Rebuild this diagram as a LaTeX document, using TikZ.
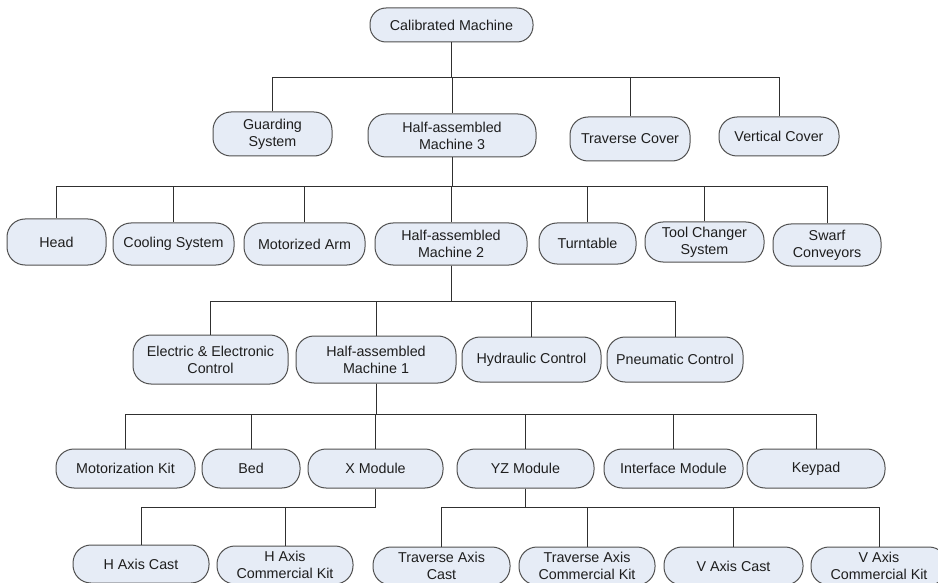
\documentclass[tikz,border=0pt]{standalone}
\usepackage{fontspec}
\setmainfont{Liberation Sans}
\definecolor{boxfill}{HTML}{E6ECF6}
\definecolor{boxline}{HTML}{505050}
\definecolor{wire}{HTML}{303030}
\definecolor{txt}{HTML}{1E1E1E}
\tikzset{
  part/.style={draw=boxline, fill=boxfill, line width=1pt, rounded corners=18pt,
    align=center, inner sep=0pt, text=txt, font=\fontsize{14.3}{16.8}\selectfont},
  conn/.style={draw=wire, line width=0.9pt},
}
\newcommand{\pbox}[6]{\node[part, minimum width=#4, minimum height=#5] (#1) at (#2,#3) {#6};}
\begin{document}
\begin{tikzpicture}[x=1pt,y=-1pt]
\useasboundingbox (0,0) rectangle (938,583);
% level 0
\node[part, rounded corners=16pt, minimum width=163pt, minimum height=34pt] (root) at (451.5,25) {Calibrated Machine};
% level 1
\pbox{guard}{272.5}{134}{119pt}{44pt}{Guarding\\System}
\pbox{ham3}{452}{135.5}{168pt}{43pt}{Half-assembled\\Machine 3}
\pbox{travc}{630}{139}{120pt}{44pt}{Traverse Cover}
\pbox{vertc}{779}{136.5}{120pt}{39pt}{Vertical Cover}
% level 2
\pbox{head}{56.5}{242}{99pt}{46pt}{Head}
\pbox{cool}{173.5}{244}{121pt}{42pt}{Cooling System}
\pbox{marm}{304.5}{244}{121pt}{42pt}{Motorized Arm}
\pbox{ham2}{451}{244}{152pt}{42pt}{Half-assembled\\Machine 2}
\pbox{turn}{587.5}{243.5}{97pt}{41pt}{Turntable}
\pbox{tool}{704.5}{242}{119pt}{40pt}{Tool Changer\\System}
\pbox{swarf}{827}{245}{108pt}{42pt}{Swarf\\Conveyors}
% level 3
\pbox{eec}{210.5}{359.5}{155pt}{49pt}{Electric \& Electronic\\Control}
\pbox{ham1}{376}{359.5}{160pt}{47pt}{Half-assembled\\Machine 1}
\pbox{hyd}{531.5}{359.5}{139pt}{45pt}{Hydraulic Control}
\pbox{pneu}{675}{359.5}{136pt}{45pt}{Pneumatic Control}
% level 4
\pbox{motk}{125.5}{468.5}{139pt}{39pt}{Motorization Kit}
\pbox{bed}{251}{468.5}{98pt}{39pt}{Bed}
\pbox{xmod}{375.5}{468.5}{135pt}{39pt}{X Module}
\pbox{yz}{525.5}{468.5}{137pt}{39pt}{YZ Module}
\pbox{intf}{673.5}{468.5}{139pt}{39pt}{Interface Module}
\pbox{keyp}{816}{468.5}{138pt}{39pt}{Keypad}
% level 5
\pbox{hac}{141}{564}{136pt}{38pt}{H Axis Cast}
\pbox{hack}{285}{565}{136pt}{38pt}{H Axis\\Commercial Kit}
\pbox{tac}{441.5}{566}{137pt}{38pt}{Traverse Axis\\Cast}
\pbox{tack}{587}{566}{136pt}{38pt}{Traverse Axis\\Commercial Kit}
\pbox{vac}{733.5}{566}{139pt}{38pt}{V Axis Cast}
\pbox{vack}{879}{566}{136pt}{38pt}{V Axis\\Commercial Kit}
% buses
\coordinate (b1) at (0,77);
\coordinate (b2) at (0,186);
\coordinate (b3) at (0,301);
\coordinate (b4) at (0,414);
\coordinate (b5) at (0,507);
\foreach \c in {guard,ham3,travc,vertc}
  \draw[conn] (root.south) -- (root.south |- b1) -| (\c.north);
\foreach \c in {head,cool,marm,ham2,turn,tool,swarf}
  \draw[conn] (ham3.south) -- (ham3.south |- b2) -| (\c.north);
\foreach \c in {eec,ham1,hyd,pneu}
  \draw[conn] (ham2.south) -- (ham2.south |- b3) -| (\c.north);
\foreach \c in {motk,bed,xmod,yz,intf,keyp}
  \draw[conn] (ham1.south) -- (ham1.south |- b4) -| (\c.north);
\foreach \c in {hac,hack}
  \draw[conn] (xmod.south) -- (xmod.south |- b5) -| (\c.north);
\foreach \c in {tac,tack,vac,vack}
  \draw[conn] (yz.south) -- (yz.south |- b5) -| (\c.north);
\end{tikzpicture}
\end{document}
